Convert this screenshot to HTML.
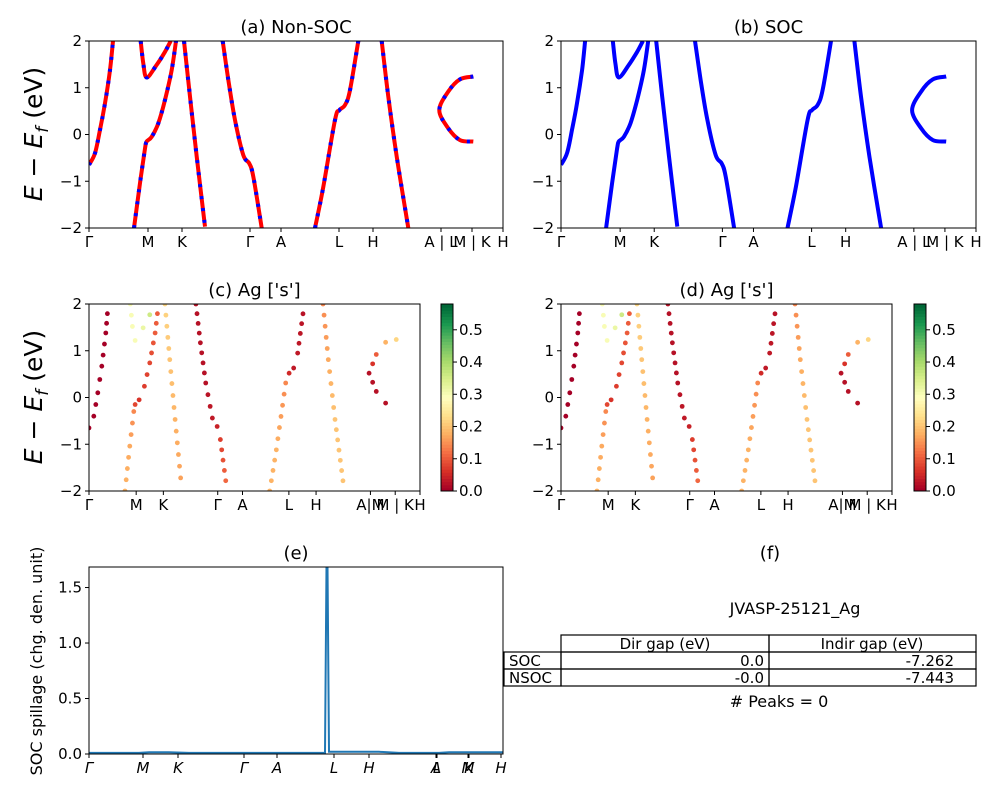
<!DOCTYPE html>
<html><head><meta charset="utf-8"><style>
body{margin:0;background:#fff;}
svg{display:block;font-family:"DejaVu Sans","Liberation Sans",sans-serif;}
</style></head><body>
<svg id="fig" width="1000" height="800" viewBox="0 0 1000 800">
<g id="root"></g>
</svg>
<script>
// ---- data ----
const kTickPos = [0,59,93,161,192,250,284,352,383,414];
const kTickLabels = ['Γ','M','K','Γ','A','L','H','A | L','M | K','H'];
const kTickLabelsC = ['Γ','M','K','Γ','A','L','H','A|M','M | K','H'];
const eTicks = [2,1,0,-1,-2];
const bandK = [
 [0,6,11,16,21,24],
 [51.7,54.3,57.7,67.7,76,81.7],
 [45,51,56,57.7,62.7,69.3,76,82.7,87],
 [95,101,107.7,116],
 [133.7,139.3,146,154.3,160.3,164.3,172.7],
 [226,234.3,246,250.3,256,261,269.3],
 [292.7,299.3,307.7,319.3],
 [384.3,371,359.3,350.3,359.3,371,384.3]
];
const bandE = [
 [-0.65,-0.4,0.1,0.67,1.38,2.0],
 [2.0,1.52,1.22,1.49,1.77,2.0],
 [-2.0,-1.04,-0.3,-0.15,-0.05,0.24,0.74,1.38,2.0],
 [2.0,0.81,-0.47,-1.97],
 [2.0,1.17,0.31,-0.44,-0.62,-0.9,-2.0],
 [-2.0,-1.12,0.31,0.52,0.63,0.95,2.0],
 [2.0,0.81,-0.47,-2.0],
 [1.24,1.18,0.92,0.52,0.13,-0.12,-0.15]
];
const bandW = [
 [0,0,0,0,0,0],
 [0.3,0.3,0.3,0.32,0.36,0.38],
 [0.18,0.17,0.14,0.08,0.06,0.07,0.08,0.1,0.1],
 [0.22,0.2,0.18,0.16],
 [0.02,0.02,0.02,0.03,0.04,0.07,0.12],
 [0.18,0.18,0.14,0.05,0.03,0.03,0.02],
 [0.14,0.17,0.2,0.2],
 [0.22,0.18,0.1,0.02,0.02,0.02,0.02]
];
const spillK = [0,50,60,80,100,150,200,236,237.5,238,238.5,240,270,290,310,350,360,380,414];
const spillV = [0.01,0.01,0.015,0.015,0.01,0.01,0.01,0.01,1.7,1.7,1.7,0.02,0.02,0.02,0.01,0.01,0.015,0.015,0.015];
const spillTicks = [0,0.5,1.0,1.5];
const eTickPos = [0,54,89,155,188,245,280,347,348,379,380,412];
const eTickLabels = ['Γ','M','K','Γ','A','L','H','A','L','M','K','H'];
const cbTicks = [0,0.1,0.2,0.3,0.4,0.5];

const NS='http://www.w3.org/2000/svg';
const root=document.getElementById('root');
function el(tag,attrs,parent,text){const e=document.createElementNS(NS,tag);for(const k in attrs)e.setAttribute(k,attrs[k]);if(text!==undefined)e.textContent=text;(parent||root).appendChild(e);return e;}
function rdylgn(t){const s=['#a50026','#d73027','#f46d43','#fdae61','#fee08b','#ffffbf','#d9ef8b','#a6d96a','#66bd63','#1a9850','#006837'];t=Math.max(0,Math.min(1,t))*10;const i=Math.min(9,Math.floor(t)),f=t-i;const a=parseInt(s[i].slice(1),16),b=parseInt(s[i+1].slice(1),16);const c=[16,8,0].map(sh=>Math.round(((a>>sh)&255)*(1-f)+((b>>sh)&255)*f));return 'rgb('+c.join(',')+')';}

function axes(name,x0,x1,y0,y1,title,tickLbls,tickPos,kMax,yTicks,yMin,yMax,italic,fmt){
 const g=el('g',{});
 
 
 const xs=k=>x0+(k/kMax)*(x1-x0);
 const ys=v=>y1-(v-yMin)/(yMax-yMin)*(y1-y0);
 const clipId=name+'-clip';
 const cp=el('clipPath',{id:clipId},g);el('rect',{x:x0,y:y0,width:x1-x0,height:y1-y0},cp);
 const plot=el('g',{'clip-path':'url(#'+clipId+')'},g);
 
 
 el('rect',{x:x0,y:y0,width:x1-x0,height:y1-y0,fill:'none',stroke:'#000','stroke-width':1},g);
 tickPos.forEach((k,i)=>{const x=xs(k);el('line',{x1:x,x2:x,y1:y1,y2:y1+4,stroke:'#000'},g);
  const t=el('text',{x:x,y:y1+19,'font-size':15,'text-anchor':'middle','font-style':italic?'italic':'normal'},g,tickLbls[i]);
  });
 yTicks.forEach(v=>{const y=ys(v);el('line',{x1:x0-4,x2:x0,y1:y,y2:y,stroke:'#000'},g);
  const t=el('text',{x:x0-7,y:y+5,'font-size':15,'text-anchor':'end'},g,fmt(v));
  });
 const tt=el('text',{x:(x0+x1)/2,y:y0-8,'font-size':18,'text-anchor':'middle'},g,title);
 
 return {g,plot,xs,ys};
}
const fmtE=v=>(v<0?'\u2212':'')+Math.abs(v);
function pathD(ks,es,xs,ys){return ks.map((k,i)=>(i?'L':'M')+xs(k).toFixed(1)+' '+ys(es[i]).toFixed(1)).join(' ');}
function smoothD(ks,es,xs,ys){const p=ks.map((k,i)=>[xs(k),ys(es[i])]);let d='M'+p[0][0].toFixed(1)+' '+p[0][1].toFixed(1);
 for(let i=0;i<p.length-1;i++){const p0=p[Math.max(0,i-1)],p1=p[i],p2=p[i+1],p3=p[Math.min(p.length-1,i+2)];
  const c1=[p1[0]+(p2[0]-p0[0])/6,p1[1]+(p2[1]-p0[1])/6],c2=[p2[0]-(p3[0]-p1[0])/6,p2[1]-(p3[1]-p1[1])/6];
  d+=' C'+c1.map(v=>v.toFixed(1)).join(' ')+' '+c2.map(v=>v.toFixed(1)).join(' ')+' '+p2.map(v=>v.toFixed(1)).join(' ');}
 return d;}

// (a)
const A=axes('panel-a-nonsoc',89,503,41,228,'(a) Non-SOC',kTickLabels,kTickPos,414,eTicks,-2,2,false,fmtE);
bandK.forEach((ks,b)=>{const d=smoothD(ks,bandE[b],A.xs,A.ys);
 const p=el('path',{d:d,fill:'none',stroke:'#ff0000','stroke-width':4,'stroke-linejoin':'round'},A.plot);
 
 const q=el('path',{d:d,fill:'none',stroke:'#0000ff','stroke-width':4,'stroke-dasharray':'3 9'},A.plot);
 });
// (b)
const B=axes('panel-b-soc',561,976,41,228,'(b) SOC',kTickLabels,kTickPos,414,eTicks,-2,2,false,fmtE);
bandK.forEach((ks,b)=>{const p=el('path',{d:smoothD(ks,bandE[b],B.xs,B.ys),fill:'none',stroke:'#0000ff','stroke-width':4,'stroke-linejoin':'round'},B.plot);
 });

// (c),(d)
function scatterPanel(name,x0,x1,title,cbx){
 const P=axes(name,x0,x1,304,491,title,kTickLabelsC,kTickPos,414,eTicks,-2,2,false,fmtE);
 bandK.forEach((ks,b)=>{const es=bandE[b],ws=bandW[b];
  for(let i=0;i<ks.length-1;i++){const dx=P.xs(ks[i+1])-P.xs(ks[i]),dy=P.ys(es[i+1])-P.ys(es[i]);
   const L=Math.hypot(dx,dy),n=Math.max(1,Math.round(L/11));
   for(let j=0;j<n;j++){const f=j/n;const k=ks[i]+(ks[i+1]-ks[i])*f,e=es[i]+(es[i+1]-es[i])*f,w=ws[i]+(ws[i+1]-ws[i])*f;
    const c=el('circle',{cx:P.xs(k),cy:P.ys(e),r:2.4,fill:rdylgn(w/0.58)},P.plot);
    }}});
 const cb=el('g',{});
 for(let i=0;i<60;i++){el('rect',{x:cbx,y:491-(i+1)*187/60,width:12,height:187/60+0.5,fill:rdylgn(i/59)},cb);}
 el('rect',{x:cbx,y:304,width:12,height:187,fill:'none',stroke:'#000'},cb);
 cbTicks.forEach(v=>{const y=491-v/0.58*187;el('line',{x1:cbx+12,x2:cbx+16,y1:y,y2:y,stroke:'#000'},cb);
  const t=el('text',{x:cbx+18,y:y+5,'font-size':15},cb,v.toFixed(1));});
}
scatterPanel('panel-c-ag-s',89,420,"(c)  Ag ['s']",441);
scatterPanel('panel-d-ag-s',561,892,"(d) Ag ['s']",914);

// y axis titles
[134,397].forEach(cy=>{const t=el('text',{x:0,y:0,'font-size':25,'text-anchor':'middle',transform:'translate(42,'+cy+') rotate(-90)'});
 
 t.innerHTML='<tspan font-style="italic">E</tspan> \u2212 <tspan font-style="italic">E</tspan><tspan font-size="17" dy="6" font-style="italic">f</tspan><tspan dy="-6"> (eV)</tspan>';});

// (e)
const E=axes('panel-e-spillage',89,503,567,754,'(e)',eTickLabels,eTickPos,414,spillTicks,0,1.685,true,v=>v.toFixed(1));
const sp=el('path',{d:pathD(spillK,spillV,E.xs,E.ys),fill:'none',stroke:'#1f77b4','stroke-width':2},E.plot);

const yl=el('text',{x:0,y:0,'font-size':16,'text-anchor':'middle',transform:'translate(42,661) rotate(-90)'},root,'SOC spillage (chg. den. unit)');


// (f)
const F=el('g',{});
el('text',{x:770,y:559,'font-size':18,'text-anchor':'middle'},F,'(f)');
el('text',{x:795,y:614,'font-size':16,'text-anchor':'middle'},F,'JVASP-25121_Ag');
const st={fill:'none',stroke:'#000','stroke-width':1.2};
[[561,635,208,17],[769,635,207,17],[504,652,57,17],[561,652,208,17],[769,652,207,17],[504,669,57,17],[561,669,208,17],[769,669,207,17]].forEach(r=>el('rect',Object.assign({x:r[0],y:r[1],width:r[2],height:r[3]},st),F));
const cells=[[665,649,'middle','Dir gap (eV)'],[872,649,'middle','Indir gap (eV)'],[509,666,'start','SOC'],[764,666,'end','0.0'],[954,666,'end','-7.262'],[509,683,'start','NSOC'],[764,683,'end','-0.0'],[954,683,'end','-7.443']];
cells.forEach(c=>{const t=el('text',{x:c[0],y:c[1],'font-size':15,'text-anchor':c[2]},F,c[3]);});
el('text',{x:779,y:707,'font-size':16,'text-anchor':'middle'},F,'# Peaks = 0');
</script>
</body></html>
